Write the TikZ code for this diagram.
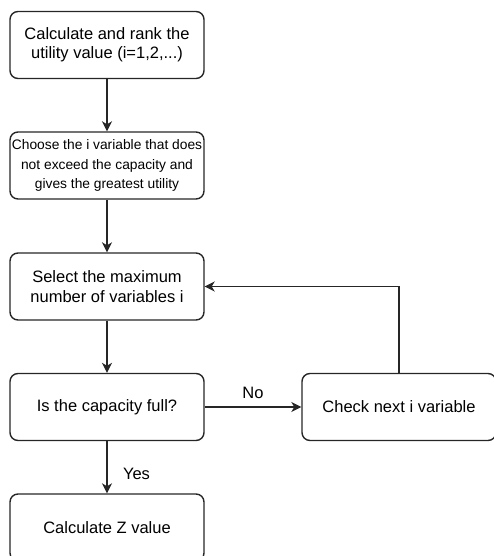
\documentclass[tikz,border=0pt]{standalone}
\usepackage{fontspec}
\setmainfont{Liberation Sans}
\usetikzlibrary{arrows.meta}
\begin{document}
\begin{tikzpicture}[x=1pt, y=-1pt]
			\tikzset{box/.style={rectangle, rounded corners=8pt, draw=black!85, line width=1.4pt, minimum width=194pt, minimum height=67pt, align=center, inner sep=0pt, font=\fontsize{16.5}{19.3}\selectfont}, arrow/.style={>={Stealth[length=10pt, width=10pt, inset=3pt]}, ->, line width=1.4pt, draw=black!85}};

			\clip (0,0) rectangle (494,556);

			\node[box] (rank)   at (107,  45) {Calculate and rank the\\utility value (i=1,2,...)};
			\node[box, font=\fontsize{13.8}{19.7}\selectfont] (choose) at (107, 165.5) {Choose the i variable that does\\not exceed the capacity and\\gives the greatest utility};
			\node[box] (select) at (107, 286.5) {Select the maximum\\number of variables i};
			\node[box] (full)   at (107, 407) {Is the capacity full?};
			\node[box] (next)   at (399, 407) {Check next i variable};
			\node[box] (zval)   at (107, 527.5) {Calculate Z value};

			\draw[arrow] (rank) to (choose);
			\draw[arrow] (choose) to (select);
			\draw[arrow] (select) to (full);
			\draw[arrow] (full) to node[pos=0.5, above=4pt, font=\fontsize{16.5}{19}\selectfont] {No} (next);
			\draw[arrow] (full) to node[pos=0.62, right=12pt, font=\fontsize{16.5}{19}\selectfont] {Yes} (zval);
			\draw[arrow] (next.north) |- (select.east);

		\end{tikzpicture}
\end{document}
